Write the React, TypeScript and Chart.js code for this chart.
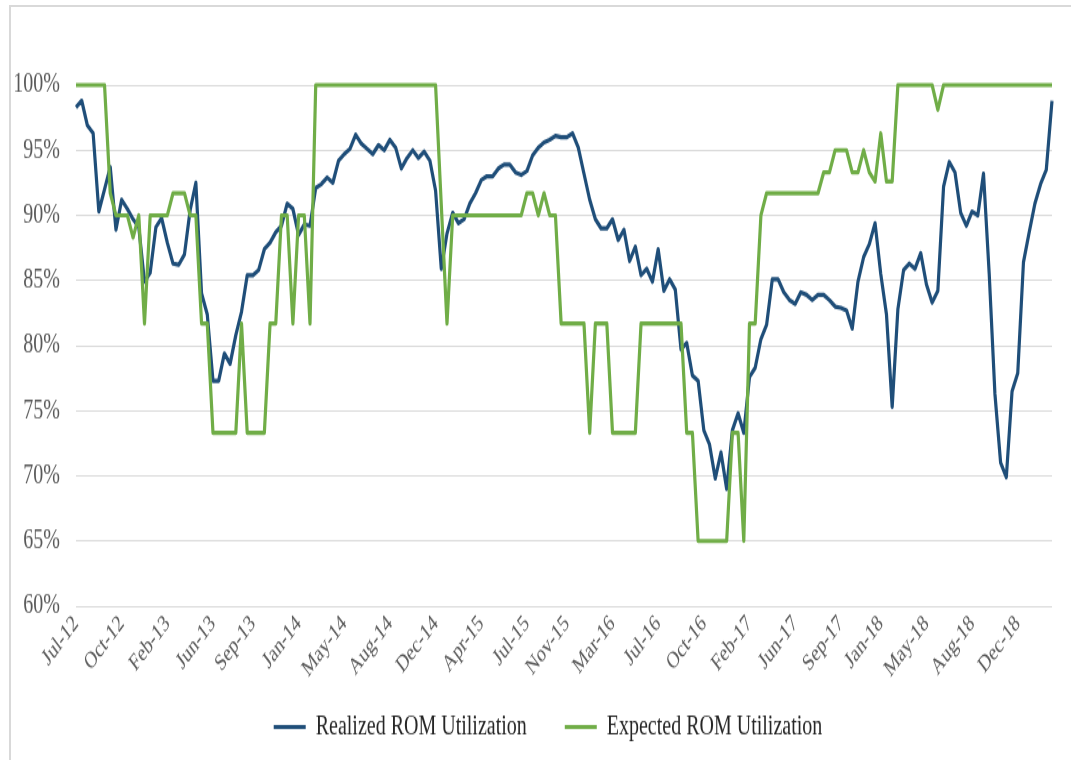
import React, { useEffect, useRef } from 'react';
import { Chart, registerables } from 'chart.js';

Chart.register(...registerables);

const FONT = "'Liberation Serif', 'Times New Roman', serif";
const STRETCH = 1.35;
const CANVAS_W = 1071;
const CANVAS_H = 563;

const tickLabels = ['Jul-12', 'Oct-12', 'Feb-13', 'Jun-13', 'Sep-13', 'Jan-14', 'May-14', 'Aug-14', 'Dec-14', 'Apr-15', 'Jul-15', 'Nov-15', 'Mar-16', 'Jul-16', 'Oct-16', 'Feb-17', 'Jun-17', 'Sep-17', 'Jan-18', 'May-18', 'Aug-18', 'Dec-18'];
const tickIndex = [0, 8, 16, 24, 31, 39, 47, 55, 63, 71, 79, 86, 94, 102, 110, 118, 126, 134, 141, 149, 157, 165];

const realized = [
  98.3, 98.8, 96.9, 96.3, 90.3, 92.0, 93.7, 88.9, 91.2, 90.5,
  89.7, 89.1, 84.9, 85.6, 89.1, 89.8, 87.9, 86.3, 86.2, 87.0,
  90.4, 92.5, 84.0, 82.4, 77.3, 77.3, 79.4, 78.6, 80.8, 82.6,
  85.4, 85.4, 85.8, 87.4, 87.9, 88.7, 89.2, 90.9, 90.5, 88.5,
  89.3, 89.2, 92.1, 92.4, 92.9, 92.5, 94.2, 94.7, 95.1, 96.2,
  95.5, 95.1, 94.7, 95.4, 95.0, 95.8, 95.2, 93.6, 94.4, 95.0,
  94.4, 94.9, 94.2, 91.9, 85.9, 88.6, 90.2, 89.4, 89.7, 90.9,
  91.7, 92.7, 93.0, 93.0, 93.6, 93.9, 93.9, 93.3, 93.1, 93.4,
  94.6, 95.2, 95.6, 95.8, 96.1, 96.0, 96.0, 96.3, 95.2, 93.2,
  91.2, 89.7, 89.0, 89.0, 89.7, 88.1, 88.9, 86.5, 87.6, 85.4,
  85.9, 84.9, 87.4, 84.2, 85.1, 84.3, 79.7, 80.2, 77.7, 77.3,
  73.5, 72.4, 69.8, 71.8, 69.0, 73.5, 74.8, 73.3, 77.6, 78.3,
  80.5, 81.6, 85.1, 85.1, 84.1, 83.5, 83.2, 84.1, 83.9, 83.5,
  83.9, 83.9, 83.5, 83.0, 82.9, 82.7, 81.3, 84.9, 86.8, 87.8,
  89.4, 85.5, 82.4, 75.3, 82.8, 85.8, 86.3, 85.9, 87.1, 84.7,
  83.3, 84.2, 92.2, 94.1, 93.3, 90.2, 89.2, 90.3, 90.0, 93.2,
  85.5, 76.3, 71.0, 69.9, 76.5, 77.9, 86.4, 88.7, 90.9, 92.4,
  93.5, 98.8,
];

const expected = [
  100, 100, 100, 100, 100, 100, 91.7, 90, 90, 90,
  88.3, 90, 81.7, 90, 90, 90, 90, 91.7, 91.7, 91.7,
  90, 90, 81.7, 81.7, 73.3, 73.3, 73.3, 73.3, 73.3, 81.7,
  73.3, 73.3, 73.3, 73.3, 81.7, 81.7, 90, 90, 81.7, 90,
  90, 81.7, 100, 100, 100, 100, 100, 100, 100, 100,
  100, 100, 100, 100, 100, 100, 100, 100, 100, 100,
  100, 100, 100, 100, 90.8, 81.7, 90, 90, 90, 90,
  90, 90, 90, 90, 90, 90, 90, 90, 90, 91.7,
  91.7, 90, 91.7, 90, 90, 81.7, 81.7, 81.7, 81.7, 81.7,
  73.3, 81.7, 81.7, 81.7, 73.3, 73.3, 73.3, 73.3, 73.3, 81.7,
  81.7, 81.7, 81.7, 81.7, 81.7, 81.7, 81.7, 73.3, 73.3, 65,
  65, 65, 65, 65, 65, 73.3, 73.3, 65, 81.7, 81.7,
  90, 91.7, 91.7, 91.7, 91.7, 91.7, 91.7, 91.7, 91.7, 91.7,
  91.7, 93.3, 93.3, 95, 95, 95, 93.3, 93.3, 95, 93.3,
  92.6, 96.3, 92.6, 92.6, 100, 100, 100, 100, 100, 100,
  100, 98.1, 100, 100, 100, 100, 100, 100, 100, 100,
  100, 100, 100, 100, 100, 100, 100, 100, 100, 100,
  100, 100,
];

const categories = realized.map((_, i) => {
  const k = tickIndex.indexOf(i);
  return k >= 0 ? tickLabels[k] : '';
});

const noLabelClip = (s: any) => {
  s._computeLabelArea = () => undefined;
};

export default function App() {
  const ref = useRef<HTMLCanvasElement>(null);

  useEffect(() => {
    if (!ref.current) return;
    const chart = new Chart(ref.current, {
      type: 'line',
      data: {
        labels: categories,
        datasets: [
          {
            label: 'Realized ROM Utilization',
            data: realized,
            borderColor: '#1F4E79',
            backgroundColor: '#1F4E79',
            borderWidth: 3.2,
            borderJoinStyle: 'round',
            pointRadius: 0,
            tension: 0,
            fill: false,
            order: 1,
            clip: false as any,
          },
          {
            label: 'Expected ROM Utilization',
            data: expected,
            borderColor: '#70AD47',
            backgroundColor: '#70AD47',
            borderWidth: 3.2,
            borderJoinStyle: 'round',
            pointRadius: 0,
            tension: 0,
            fill: false,
            order: 0,
            clip: false as any,
          },
        ],
      },
      options: {
        responsive: false,
        animation: false,
        layout: { padding: { left: 44, right: 19, top: 63, bottom: 4.5 } },
        plugins: {
          legend: {
            position: 'bottom',
            labels: {
              usePointStyle: true,
              pointStyle: 'line',
              pointStyleWidth: 32,
              padding: 38,
              color: '#262626',
              font: { family: FONT, size: 20 },
              sort: (a: any, b: any) => a.datasetIndex - b.datasetIndex,
            },
          },
          tooltip: { enabled: false },
        },
        scales: {
          x: {
            type: 'category',
            offset: false,
            grid: { display: false, drawTicks: false },
            border: { display: false },
            ticks: {
              autoSkip: false,
              maxRotation: 45,
              minRotation: 45,
              padding: 3,
              color: '#595959',
              font: { family: FONT, size: 17.5 },
            },
            afterFit: (s: any) => {
              s.height = 41.5;
              noLabelClip(s);
            },
          },
          y: {
            min: 60,
            max: 100,
            grid: { color: '#d9d9d9', lineWidth: 1, drawTicks: false },
            border: { display: false },
            ticks: {
              stepSize: 5,
              padding: 16,
              color: '#595959',
              font: { family: FONT, size: 20 },
              callback: (v: any) => `${v}%`,
            },
            afterFit: (s: any) => {
              s.width = 32;
              noLabelClip(s);
            },
          },
        },
      },
    } as any);
    return () => chart.destroy();
  }, []);

  return (
    <div style={{ position: 'fixed', left: 0, top: 0, width: 1071, height: 760, overflow: 'hidden', background: '#ffffff' }}>
      <div style={{ position: 'absolute', left: 9, top: 5, width: 1100, height: 800, border: '2px solid #d9d9d9', boxSizing: 'border-box' }} />
      <div style={{ position: 'absolute', left: 0, top: 0, width: CANVAS_W, height: CANVAS_H, transform: `scaleY(${STRETCH})`, transformOrigin: '0 0' }}>
        <canvas ref={ref} width={CANVAS_W} height={CANVAS_H} style={{ width: CANVAS_W, height: CANVAS_H, display: 'block' }} />
      </div>
    </div>
  );
}
